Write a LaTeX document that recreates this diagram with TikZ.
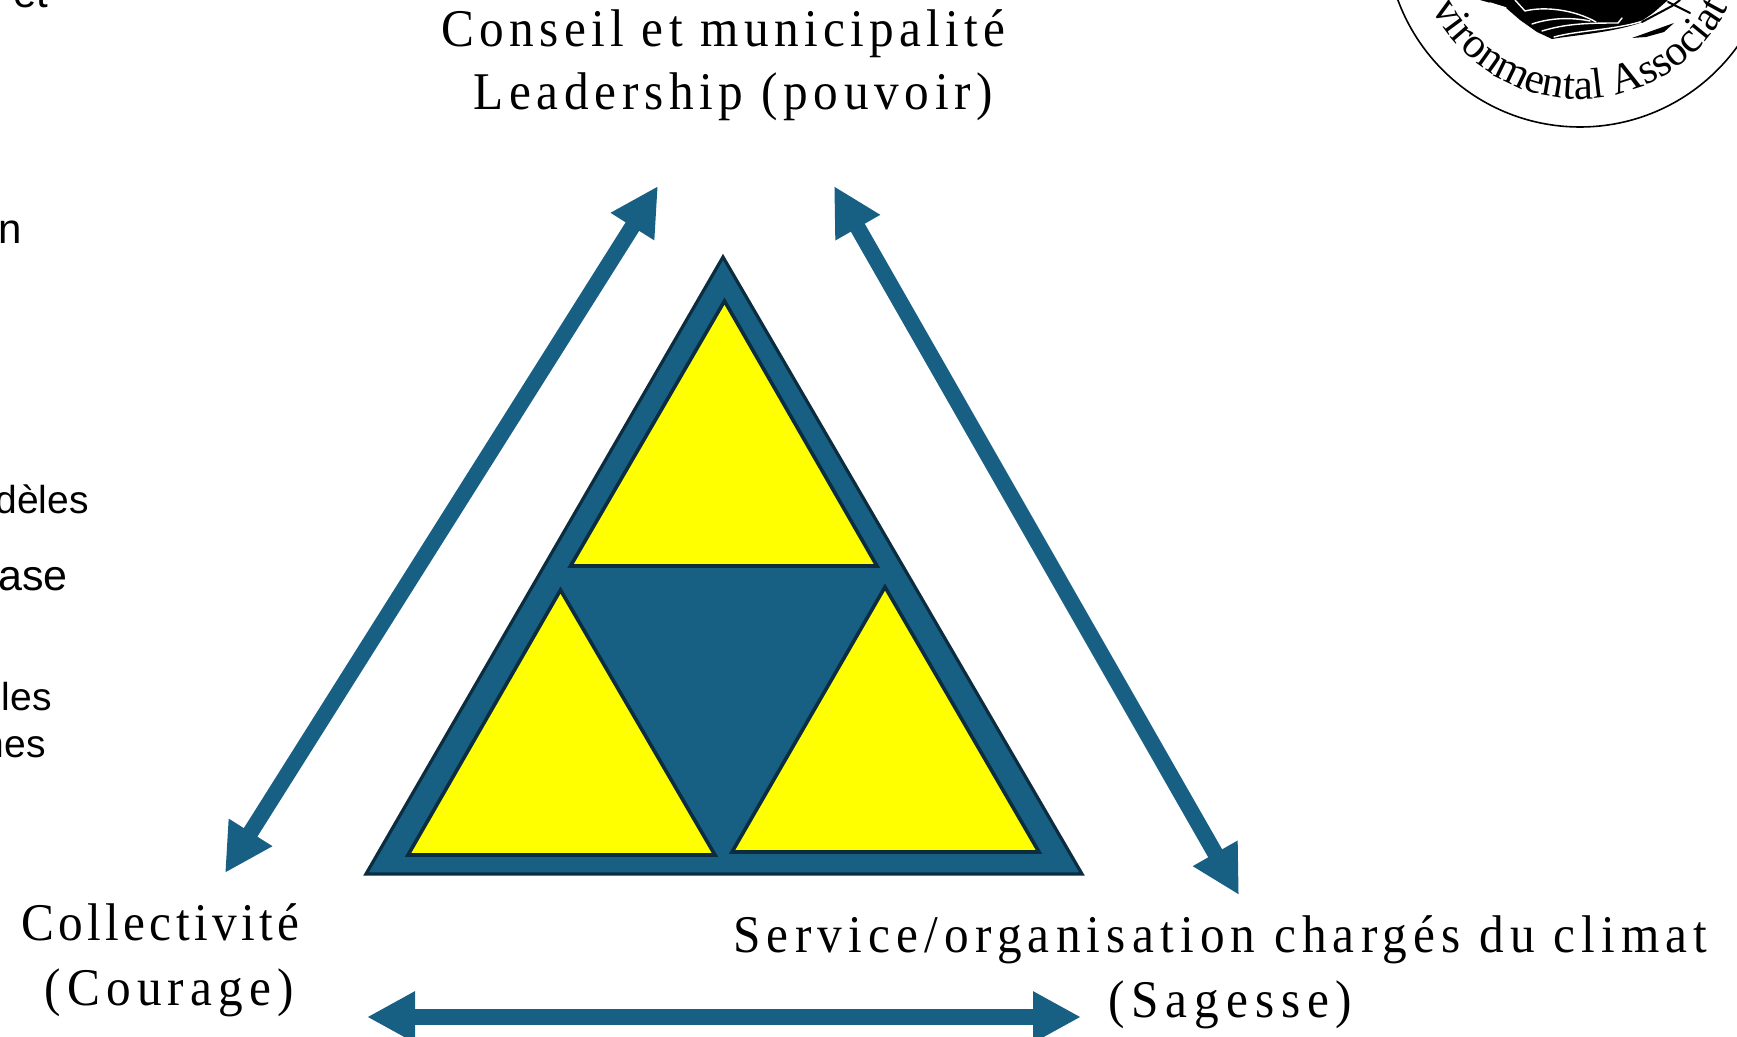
\documentclass[tikz,border=0pt]{standalone}
\usepackage{fontspec}
\setmainfont{Liberation Serif}
\newfontfamily\sidefont{Liberation Sans}
\newfontfamily\serifA[LetterSpace=10.1,FakeStretch=0.93]{Liberation Serif}
\newfontfamily\serifB[LetterSpace=10.7,FakeStretch=0.93]{Liberation Serif}
\newfontfamily\serifC[LetterSpace=8.2,FakeStretch=0.93]{Liberation Serif}
\newfontfamily\serifD[LetterSpace=11.8,FakeStretch=0.93]{Liberation Serif}
\newfontfamily\serifE[LetterSpace=11.7,FakeStretch=0.93]{Liberation Serif}
\newfontfamily\serifF[LetterSpace=13,FakeStretch=0.93]{Liberation Serif}
\usetikzlibrary{arrows.meta,decorations.text}
\definecolor{tealblue}{HTML}{176084}
\definecolor{darkedge}{HTML}{0B2D3F}
\definecolor{triyellow}{HTML}{FFFF00}
\tikzset{
  outertri/.style={draw=darkedge,fill=tealblue,line width=1.6pt,line join=miter},
  yellowtri/.style={draw=darkedge,fill=triyellow,line width=1.8pt,line join=miter},
  bigarrow/.style={draw=tealblue,line width=8pt,{Triangle[length=24pt,width=24pt,fill=tealblue]}-{Triangle[length=24pt,width=24pt,fill=tealblue]}},
  headlabel/.style={inner sep=0pt,anchor=base west},
  sidelabel/.style={inner sep=0pt,anchor=base east,text=black},
  logowhite/.style={draw=white,line width=0.7pt,line cap=round},
  logoblack/.style={draw=black,line width=1pt,line cap=round},
}
\newcommand{\headsz}{\fontsize{26.5}{30}\selectfont}
\begin{document}
\begin{tikzpicture}[x=0.5pt,y=-0.5pt]
\useasboundingbox (0,0) rectangle (1737,1037);
\begin{scope}
\clip (0,0) rectangle (1737,1037);
% cropped side text
\node[sidelabel,font=\fontsize{21}{24}\selectfont\sidefont] (s1) at (49,8) {et};
\node[sidelabel,font=\fontsize{21}{24}\selectfont\sidefont] (s2) at (22,244) {n};
\node[sidelabel,font=\fontsize{19.5}{22}\selectfont\sidefont] (s3) at (89,514) {dèles};
\node[sidelabel,font=\fontsize{21.5}{24}\selectfont\sidefont] (s4) at (68,591) {ase};
\node[sidelabel,font=\fontsize{19.5}{22}\selectfont\sidefont] (s5) at (52,711) {les};
\node[sidelabel,font=\fontsize{19.5}{22}\selectfont\sidefont] (s6) at (46,757) {nes};
% logo
\coordinate (logoc) at (1580,-67);
\draw[black,line width=0.8pt] (logoc) circle[radius=194];
\fill[black] (1480,0) -- (1505,7) -- (1520,20) -- (1537,32) -- (1552,39)
  .. controls (1575,35) and (1610,33) .. (1640,23)
  -- (1652,14) -- (1668,0) -- cycle;
\path[logowhite] (1490,3) -- (1506,8);
\path[logowhite] (1515,0) -- (1525,11) .. controls (1545,6) and (1575,10) .. (1596,22);
\path[logowhite] (1532,24) .. controls (1550,18) and (1570,17) .. (1590,21);
\path[logowhite] (1542,31) .. controls (1565,24) and (1585,23) .. (1618,23) -- (1622,18);
\path[logowhite] (1554,37) .. controls (1580,30) and (1615,30) .. (1643,21) -- (1667,5);
\fill[black] (1632,38) -- (1660,28) -- (1674,23) -- (1664,32) -- (1646,37) -- cycle;
\path[logoblack] (1642,22) -- (1672,6) -- (1680,0);
\path[logoblack] (1668,2) -- (1690,13);
\path[decorate,decoration={text along path,
    text={|\fontsize{21.5}{24}\selectfont|vironmental Associat}}]
  (1432,8.4) arc[start angle=153,end angle=5,radius=166];
\end{scope}
% triangles
\path[outertri] (723,257) -- (366,874) -- (1082,874) -- cycle;
\path[yellowtri] (724.5,301) -- (570.5,566) -- (877,566) -- cycle;
\path[yellowtri] (560.5,590) -- (408,855) -- (715,855) -- cycle;
\path[yellowtri] (885,587) -- (732,852) -- (1039,852) -- cycle;
% arrows
\coordinate (la) at (658,186);
\coordinate (lb) at (225,873);
\coordinate (ra) at (834,186);
\coordinate (rb) at (1239,895);
\coordinate (ba) at (367,1017);
\coordinate (bb) at (1081,1017);
\path[bigarrow] (lb) -- (la);
\path[bigarrow] (ra) -- (rb);
\path[bigarrow] (ba) -- (bb);
% labels
\node[headlabel,font=\headsz\serifA] (conseil) at (441,46.5) {Conseil et municipalité};
\node[headlabel,font=\headsz\serifB] (leader) at (473,110) {Leadership (pouvoir)};
\node[headlabel,font=\headsz\serifC] (coll) at (21,940) {Collectivité};
\node[headlabel,font=\headsz\serifD] (cour) at (44,1005) {(Courage)};
\node[headlabel,font=\headsz\serifE] (serv) at (733,952) {Service/organisation chargés du climat};
\node[headlabel,font=\headsz\serifF] (sage) at (1108,1017) {(Sagesse)};
\end{tikzpicture}
\end{document}
